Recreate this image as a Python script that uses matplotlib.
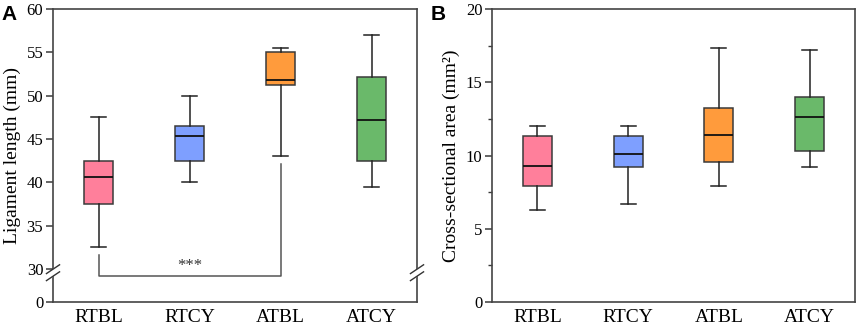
import numpy as np
import matplotlib
matplotlib.use("Agg")
import matplotlib.pyplot as plt

categories = ["RTBL", "RTCY", "ATBL", "ATCY"]
colors = ["#FF7F9B", "#7E9FFF", "#FF9B3C", "#6AB96A"]

# Panel A: ligament length (mm)
len_low = [32.5, 40.0, 43.0, 39.5]
len_q1 = [37.5, 42.5, 51.2, 42.5]
len_med = [40.6, 45.3, 51.8, 47.2]
len_q3 = [42.5, 46.5, 55.0, 52.2]
len_high = [47.5, 50.0, 55.5, 57.0]

# Panel B: cross-sectional area (mm2)
area_low = [6.3, 6.7, 7.9, 9.23]
area_q1 = [7.9, 9.2, 9.55, 10.32]
area_med = [9.25, 10.1, 11.43, 12.61]
area_q3 = [11.3, 11.3, 13.27, 14.0]
area_high = [12.02, 12.0, 17.36, 17.18]

sig_text = "***"

plt.rcParams['font.family'] = ['Liberation Serif', 'DejaVu Serif']

fig = plt.figure(figsize=(8.58, 3.28), dpi=100)
axA = fig.add_axes([53/858, 26/328, 364/858, 293/328])
axB = fig.add_axes([492/858, 26/328, 363/858, 293/328])

edge = "#3a3a3a"

def draw_boxes(ax, low, q1, med, q3, high):
    stats = []
    for i in range(len(low)):
        stats.append(dict(whislo=low[i], q1=q1[i], med=med[i], q3=q3[i],
                          whishi=high[i], fliers=[], label=categories[i]))
    bp = ax.bxp(stats, positions=np.arange(1, len(low) + 1), widths=0.32,
                capwidths=0.165, patch_artist=True, showfliers=False,
                boxprops=dict(edgecolor=edge, linewidth=1.1),
                medianprops=dict(color="#111111", linewidth=1.3),
                whiskerprops=dict(color="#222222", linewidth=1.1),
                capprops=dict(color="#222222", linewidth=1.1))
    for patch, c in zip(bp['boxes'], colors):
        patch.set_facecolor(c)
    return bp

# broken-axis scale for panel A
k = 3.8 / 30.0
def fwd(y):
    y = np.asarray(y, dtype=float)
    return np.where(y >= 30, y, 30 - (30 - y) * k)
def inv(f):
    f = np.asarray(f, dtype=float)
    return np.where(f >= 30, f, 30 - (30 - f) / k)

axA.set_yscale('function', functions=(fwd, inv))
draw_boxes(axA, len_low, len_q1, len_med, len_q3, len_high)
axA.set_ylim(0, 60)
axA.set_xlim(0.5, 4.5)
axA.set_yticks([0, 30, 35, 40, 45, 50, 55, 60])
axA.set_yticklabels(["0", "30", "35", "40", "45", "50", "55", "60"])
axA.set_ylabel("Ligament length (mm)", fontsize=14, labelpad=4)

# significance bracket RTBL vs ATBL
bracket_y = 23.7
axA.plot([1, 1, 3, 3], [31.6, bracket_y, bracket_y, 42.1], color="#555555", lw=1.1)
axA.text(2.0, 30.35, sig_text, ha='center', va='center', fontsize=12, color="#333333")

# break marks on spines
for xa in (0.0, 1.0):
    axA.plot([xa - 0.012, xa + 0.012], [0.085, 0.115], transform=axA.transAxes,
             color="white", lw=4, clip_on=False, zorder=5)
    for dy in (-0.012, 0.012):
        axA.plot([xa - 0.018, xa + 0.018], [0.085 + dy, 0.115 + dy],
                 transform=axA.transAxes, color="#333333", lw=1.0,
                 clip_on=False, zorder=6)

draw_boxes(axB, area_low, area_q1, area_med, area_q3, area_high)
axB.set_ylim(0, 20)
axB.set_xlim(0.5, 4.5)
axB.set_yticks([0, 5, 10, 15, 20])
axB.set_yticks([2.5, 7.5, 12.5, 17.5], minor=True)
axB.set_ylabel("Cross-sectional area (mm²)", fontsize=14, labelpad=4)

for ax in (axA, axB):
    ax.set_xticks([1, 2, 3, 4])
    ax.set_xticklabels(categories, fontsize=14)
    ax.tick_params(axis='x', length=0, pad=5)
    ax.tick_params(axis='y', which='major', direction='out', length=5,
                   width=1.1, color=edge, labelsize=12, pad=2)
    ax.tick_params(axis='y', which='minor', direction='out', length=3,
                   width=1.0, color=edge)
    for s in ax.spines.values():
        s.set_color("#444444")
        s.set_linewidth(1.2)

fig.text(0.002, 0.985, "A", fontsize=15, fontweight='bold', va='top',
         family='Liberation Sans')
fig.text(0.502, 0.985, "B", fontsize=15, fontweight='bold', va='top',
         family='Liberation Sans')

fig.savefig("out.png", dpi=100)
